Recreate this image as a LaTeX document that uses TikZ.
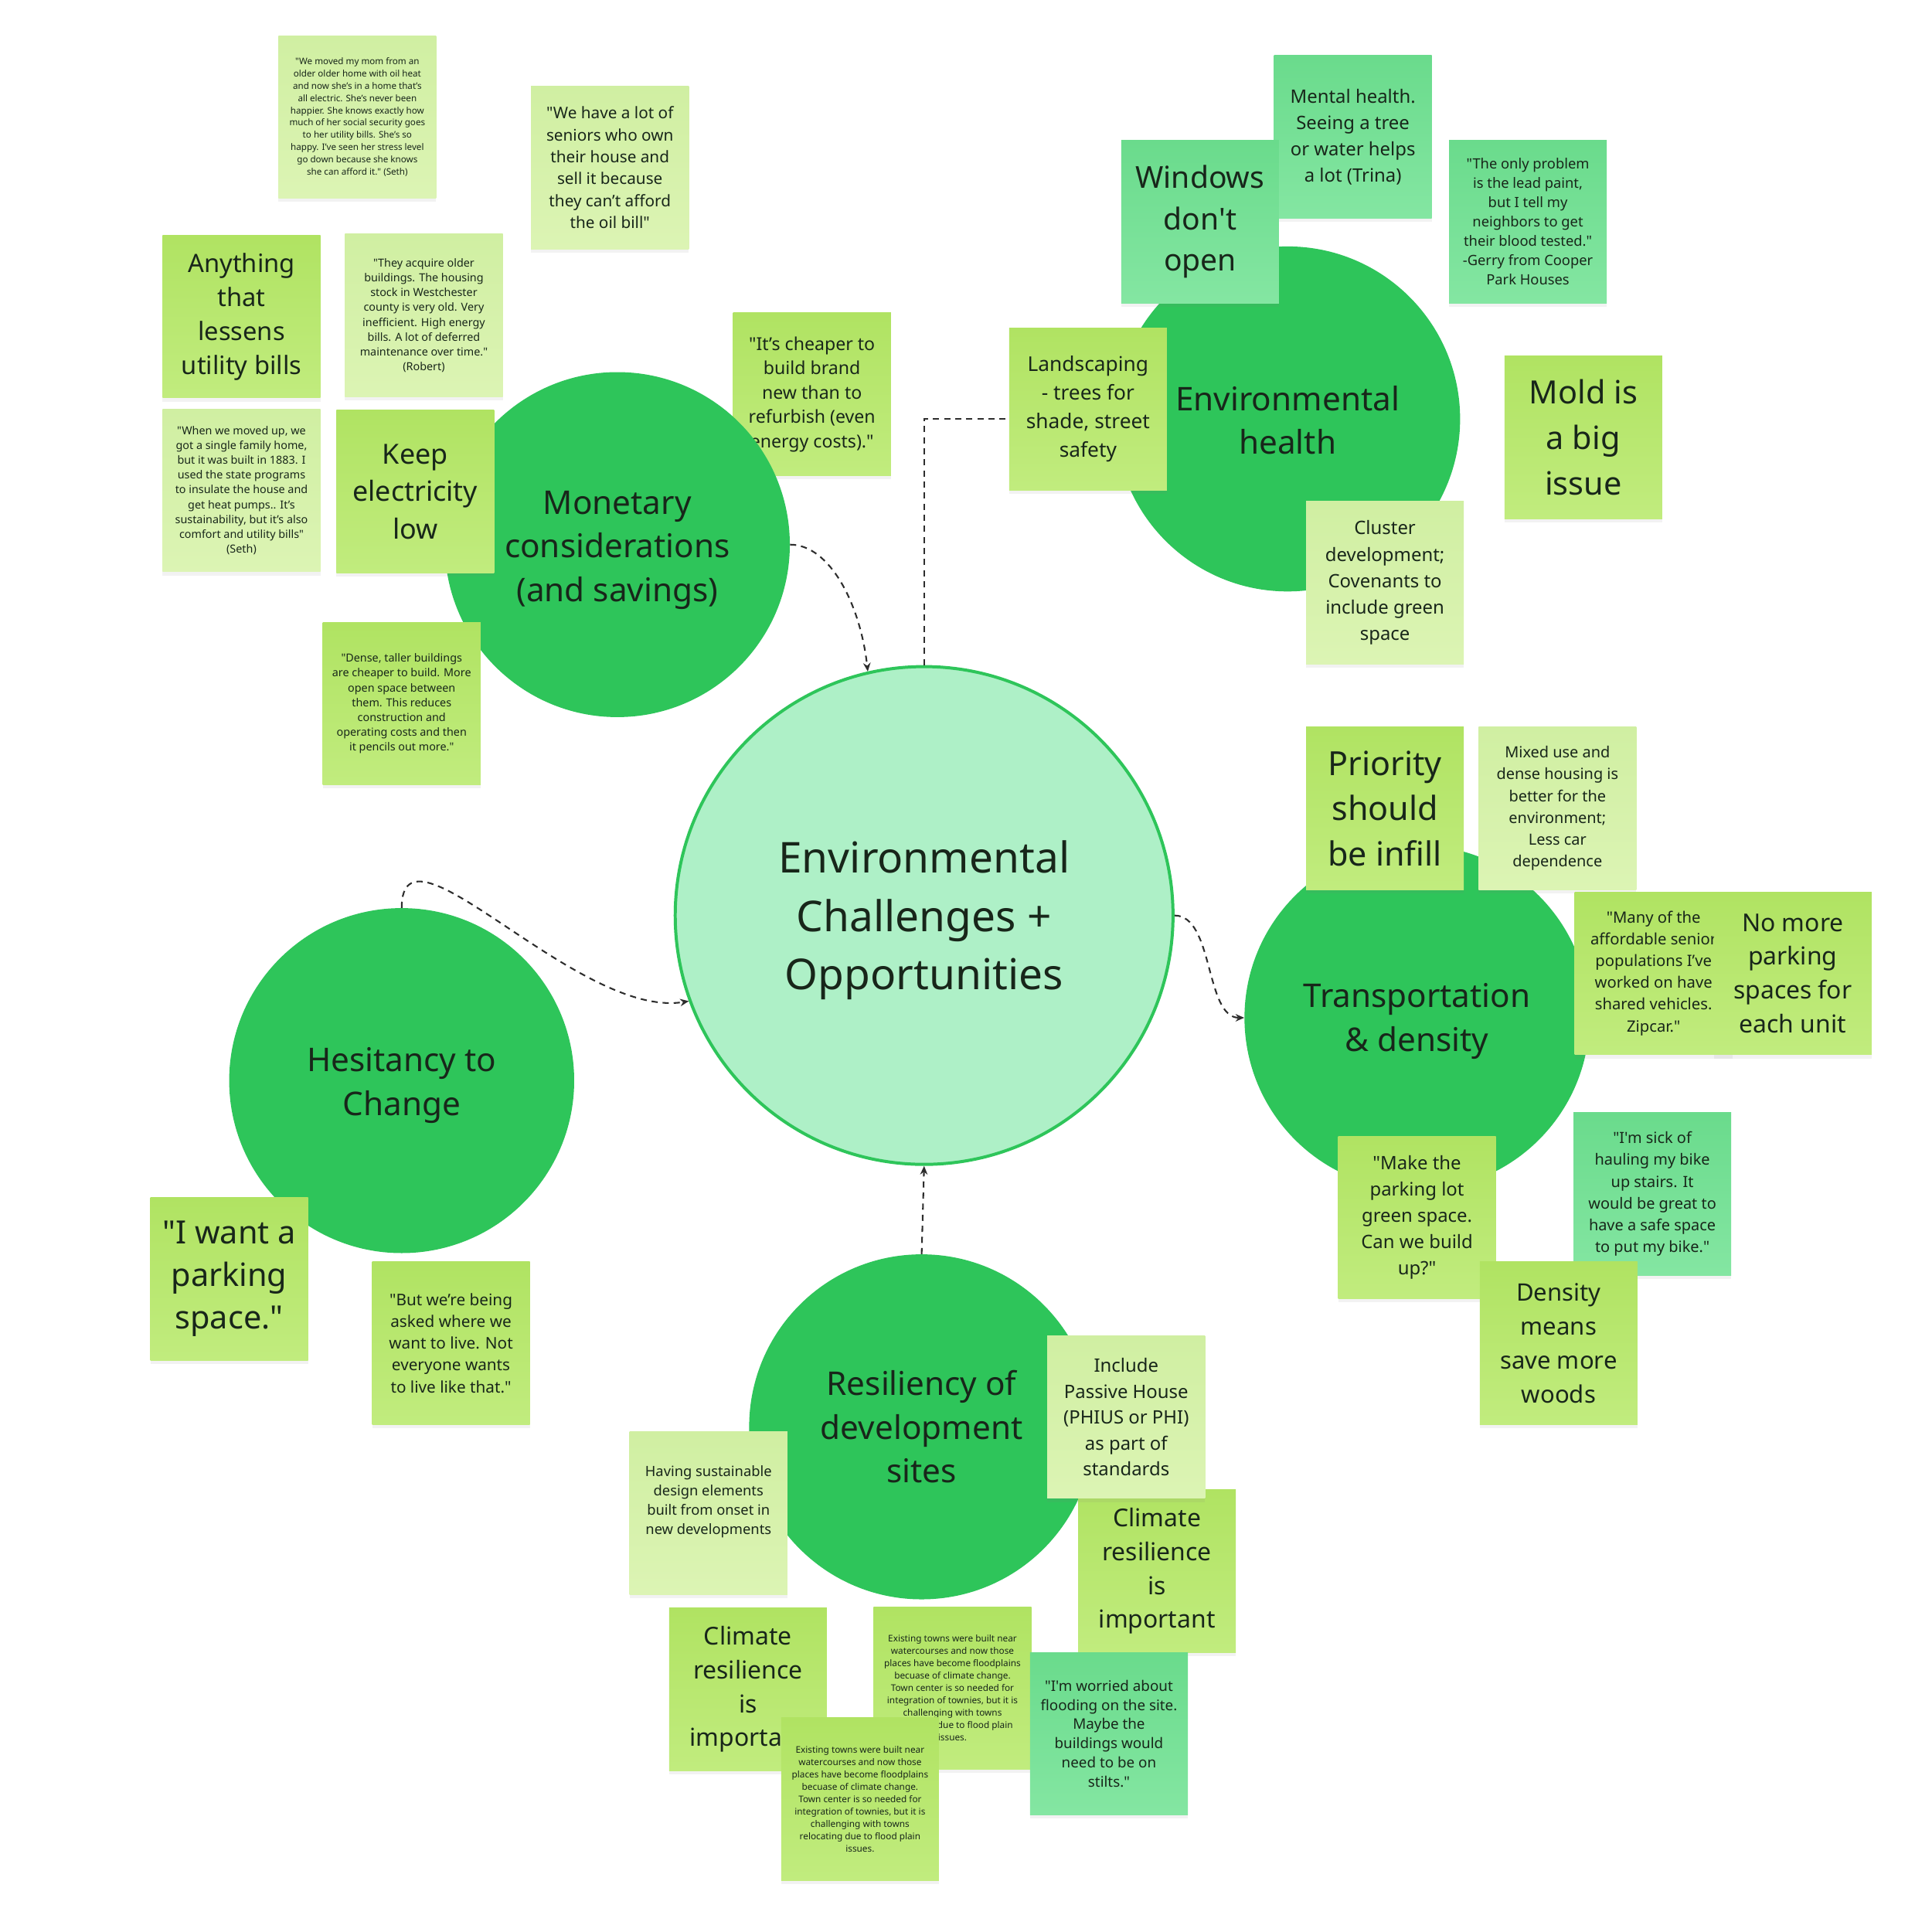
\documentclass[tikz,border=0pt]{standalone}
\usepackage{fontspec}
\setmainfont{Noto Sans}[Ligatures=TeXOff]
\usetikzlibrary{arrows.meta,shadows}
\definecolor{cgreen}{RGB}{46,197,90}
\definecolor{mint}{RGB}{174,240,199}
\definecolor{limeT}{RGB}{176,227,98}
\definecolor{limeB}{RGB}{193,236,126}
\definecolor{lightT}{RGB}{208,239,162}
\definecolor{lightB}{RGB}{220,244,180}
\definecolor{midT}{RGB}{106,219,140}
\definecolor{midB}{RGB}{132,230,162}
\definecolor{ink}{RGB}{24,38,26}
\definecolor{linec}{RGB}{45,45,45}
\newcommand\fsz[2]{\fontsize{#1}{#2}\selectfont}
\tikzset{
 stickynote/.style={rectangle, minimum width=128pt, minimum height=132pt, inner sep=0pt, align=center, text=ink,
   drop shadow={shadow xshift=0pt, shadow yshift=-3pt, opacity=0.10}},
 limenote/.style={stickynote, top color=limeT, bottom color=limeB},
 lightnote/.style={stickynote, top color=lightT, bottom color=lightB},
 midnote/.style={stickynote, top color=midT, bottom color=midB},
 topic/.style={circle, fill=cgreen, minimum size=280pt, inner sep=0pt},
 topictext/.style={align=center, text=ink, inner sep=0pt, font=\fsz{26.5}{35.5}},
 dashlink/.style={draw=linec, line width=1.3pt, dash pattern=on 5pt off 4pt},
 arrowend/.style={-{Stealth[length=7pt,width=6pt]}},
}
\begin{document}
\begin{tikzpicture}[x=1pt,y=-1pt]
\useasboundingbox (0,0) rectangle (1568,1568);
\fill[white] (0,0) rectangle (1568,1568);

% note below the Monetary circle
\node[limenote, font=\fsz{14.5}{19.8}] (n7) at (659,320) {"It’s cheaper to\\build brand\\new than to\\refurbish (even\\energy costs)."};

% topic circles
\node[circle, minimum size=404pt, inner sep=0pt, fill=mint, draw=cgreen, line width=2.5pt] (cc) at (750,743) {};
\node[align=center, text=ink, inner sep=0pt, font=\fsz{34.5}{47.3}] (cct) at ([yshift=-4pt]cc.center) {Environmental\\Challenges +\\Opportunities};
\node[topic] (mon) at (501,442) {};
\node[topictext] (mont) at ([yshift=-4.5pt]mon.center) {Monetary\\considerations\\(and savings)};
\node[topic] (env) at (1045,340) {};
\node[topictext] (envt) at ([yshift=-1pt]env.center) {Environmental\\health};
\node[topic] (tr) at (1150,826) {};
\node[topictext] (trt) at ([yshift=-3pt]tr.center) {Transportation\\\& density};
\node[topic] (hes) at (326,877) {};
\node[topictext] (hest) at ([yshift=-4pt]hes.center) {Hesitancy to\\Change};
\node[topic] (res) at (748,1158) {};
\node[topictext] (rest) at (res.center) {Resiliency of\\development\\sites};

% connectors
\draw[dashlink, arrowend] (mon.east) .. controls +(32,0) and +(-6,-55) .. (cc.103.4);
\draw[dashlink, arrowend] (cc.north) |- (env.west);
\draw[dashlink, arrowend] (cc.east) .. controls +(32,0) and +(-32,0) .. (tr.west);
\draw[dashlink, arrowend] (hes.north) .. controls +(0,-80) and +(-90,15) .. (cc.200.7);
\draw[dashlink, arrowend] (res.north) -- (cc.south);

% notes: monetary
\node[lightnote, font=\fsz{7.3}{9.9}] (n1) at (290,95) {"We moved my mom from an\\older older home with oil heat\\and now she’s in a home that’s\\all electric. She’s never been\\happier. She knows exactly how\\much of her social security goes\\to her utility bills. She’s so\\happy. I’ve seen her stress level\\go down because she knows\\she can afford it." (Seth)};
\node[lightnote, font=\fsz{13}{17.8}] (n2) at (495,136) {"We have a lot of\\seniors who own\\their house and\\sell it because\\they can’t afford\\the oil bill"};
\node[limenote, font=\fsz{20.5}{27.6}] (n3) at (196,257) {Anything\\that\\lessens\\utility bills};
\node[lightnote, font=\fsz{9}{12}] (n4) at (344,256) {"They acquire older\\buildings. The housing\\stock in Westchester\\county is very old. Very\\inefficient. High energy\\bills. A lot of deferred\\maintenance over time."\\(Robert)};
\node[lightnote, font=\fsz{9}{12}] (n5) at (196,398) {"When we moved up, we\\got a single family home,\\but it was built in 1883. I\\used the state programs\\to insulate the house and\\get heat pumps.. It’s\\sustainability, but it’s also\\comfort and utility bills"\\(Seth)};
\node[limenote, font=\fsz{22.5}{30.6}] (n6) at (337,399) {Keep\\electricity\\low};
\node[limenote, font=\fsz{9}{12}] (n8) at (326,571) {"Dense, taller buildings\\are cheaper to build. More\\open space between\\them. This reduces\\construction and\\operating costs and then\\it pencils out more."};

% notes: environmental health
\node[midnote, font=\fsz{15}{21.3}] (n10) at (1098,111) {Mental health.\\Seeing a tree\\or water helps\\a lot (Trina)};
\node[midnote, font=\fsz{24.5}{33.5}] (n9) at (974,180) {Windows\\don't\\open};
\node[midnote, font=\fsz{11.5}{15.7}] (n11) at (1240,180) {"The only problem\\is the lead paint,\\but I tell my\\neighbors to get\\their blood tested."\\-Gerry from Cooper\\Park Houses};
\node[limenote, font=\fsz{16.5}{23.3}] (n12) at (883,332) {Landscaping\\- trees for\\shade, street\\safety};
\node[limenote, font=\fsz{26}{37}] (n13) at (1285,355) {Mold is\\a big\\issue};
\node[lightnote, font=\fsz{15}{21.5}] (n14) at (1124,473) {Cluster\\development;\\Covenants to\\include green\\space};

% notes: transportation
\node[limenote, font=\fsz{27}{36.7}] (n15) at (1124,656) {Priority\\should\\be infill};
\node[lightnote, font=\fsz{12.5}{17.7}] (n16) at (1264,656) {Mixed use and\\dense housing is\\better for the\\environment;\\Less car\\dependence};
\node[limenote, font=\fsz{12.7}{17.6}] (n17) at (1342,790) {"Many of the\\affordable senior\\populations I’ve\\worked on have\\shared vehicles.\\Zipcar."};
\node[limenote, font=\fsz{20}{27.5}] (n18) at (1455,790) {No more\\parking\\spaces for\\each unit};
\node[limenote, font=\fsz{15}{21.2}] (n19) at (1150,988) {"Make the\\parking lot\\green space.\\Can we build\\up?"};
\node[midnote, font=\fsz{12.5}{17.7}] (n20) at (1341,969) {"I'm sick of\\hauling my bike\\up stairs. It\\would be great to\\have a safe space\\to put my bike."};
\node[limenote, font=\fsz{19.5}{27.6}] (n21) at (1265,1090) {Density\\means\\save more\\woods};

% notes: hesitancy
\node[limenote, font=\fsz{26}{34.6}] (n22) at (186,1038) {"I want a\\parking\\space."};
\node[limenote, font=\fsz{13}{17.7}] (n23) at (366,1090) {"But we’re being\\asked where we\\want to live. Not\\everyone wants\\to live like that."};

% notes: resiliency
\node[limenote, font=\fsz{20}{27.5}] (n25) at (939,1275) {Climate\\resilience\\is\\important};
\node[lightnote, font=\fsz{15}{21}] (n24) at (914,1150) {Include\\Passive House\\(PHIUS or PHI)\\as part of\\standards};
\node[lightnote] (n26) at (575,1228) {};
\node[align=center, text=ink, font=\fsz{11.5}{15.7}] (n26t) at ([yshift=9pt]n26.center) {Having sustainable\\design elements\\built from onset in\\new developments};
\node[limenote, font=\fsz{20}{27.5}] (n27) at (607,1371) {Climate\\resilience\\is\\important};
\node[limenote, font=\fsz{7.4}{10}] (n28) at (773,1370) {Existing towns were built near\\watercourses and now those\\places have become floodplains\\becuase of climate change.\\Town center is so needed for\\integration of townies, but it is\\challenging with towns\\relocating due to flood plain\\issues.};
\node[midnote, font=\fsz{11.8}{15.6}] (n30) at (900,1407) {"I'm worried about\\flooding on the site.\\Maybe the\\buildings would\\need to be on\\stilts."};
\node[limenote, font=\fsz{7.4}{10}] (n29) at (698,1460) {Existing towns were built near\\watercourses and now those\\places have become floodplains\\becuase of climate change.\\Town center is so needed for\\integration of townies, but it is\\challenging with towns\\relocating due to flood plain\\issues.};
\end{tikzpicture}
\end{document}
